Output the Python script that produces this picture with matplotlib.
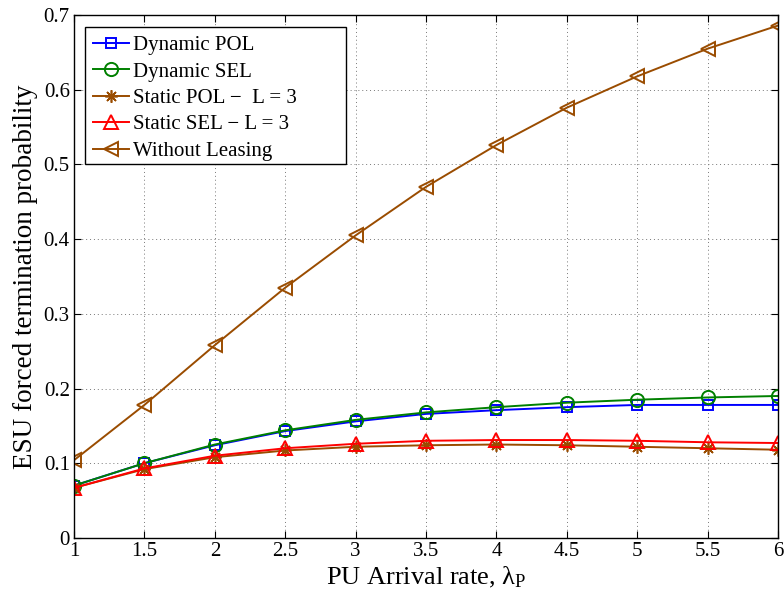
import matplotlib
matplotlib.use("Agg")
import matplotlib.pyplot as plt
from matplotlib.patches import Rectangle

x = [1, 1.5, 2, 2.5, 3, 3.5, 4, 4.5, 5, 5.5, 6]
dyn_pol = [0.070, 0.100, 0.124, 0.143, 0.156, 0.166, 0.171, 0.175, 0.178, 0.178, 0.178]
dyn_sel = [0.070, 0.100, 0.125, 0.144, 0.158, 0.168, 0.175, 0.181, 0.185, 0.188, 0.190]
sta_pol = [0.067, 0.092, 0.108, 0.117, 0.122, 0.124, 0.125, 0.124, 0.122, 0.120, 0.118]
sta_sel = [0.067, 0.093, 0.110, 0.120, 0.126, 0.130, 0.131, 0.131, 0.130, 0.128, 0.127]
no_lease = [0.104, 0.178, 0.258, 0.335, 0.405, 0.470, 0.526, 0.576, 0.618, 0.655, 0.686]

labels = ["Dynamic POL", "Dynamic SEL", "Static POL \u2212  L = 3",
          "Static SEL \u2212 L = 3", "Without Leasing"]
xticklabels = ['1', '1.5', '2', '2.5', '3', '3.5', '4', '4.5', '5', '5.5', '6']
yticks = [0, 0.1, 0.2, 0.3, 0.4, 0.5, 0.6, 0.7]
yticklabels = ['0', '0.1', '0.2', '0.3', '0.4', '0.5', '0.6', '0.7']

plt.rcParams['font.family'] = ['Liberation Serif', 'DejaVu Serif']
plt.rcParams['mathtext.fontset'] = 'custom'
plt.rcParams['mathtext.rm'] = 'Liberation Serif'
plt.rcParams['mathtext.it'] = 'Liberation Serif'

brown = '#9a4c00'
fig = plt.figure(figsize=(7.84, 6.03), dpi=100)
ax = fig.add_axes([0.0944, 0.108, 0.898, 0.867])

lw = 1.4
ax.plot(x, dyn_pol, color='blue', marker='s', mfc='none', ms=7, mew=1.4, lw=lw, label=labels[0])
ax.plot(x, dyn_sel, color='green', marker='o', mfc='none', ms=9.5, mew=1.4, lw=lw, label=labels[1])
ax.plot(x, sta_pol, color=brown, marker=(8, 2, 0), mfc='none', ms=9, mew=1.2, lw=lw, label=labels[2])
ax.plot(x, sta_sel, color='red', marker='^', mfc='none', ms=9.5, mew=1.4, lw=lw, label=labels[3])
ax.plot(x, no_lease, color=brown, marker='<', mfc='none', ms=9.5, mew=1.4, lw=lw, label=labels[4])

ax.set_xlim(1, 6)
ax.set_ylim(0, 0.7)
ax.set_xticks(x)
ax.set_xticklabels(xticklabels)
ax.set_yticks(yticks)
ax.set_yticklabels(yticklabels)
ax.tick_params(direction='in', labelsize=15, top=True, right=True, length=5, pad=3)
ax.grid(True, linestyle=(0, (1, 3)), color='#777777', lw=0.7)
for s in ax.spines.values():
    s.set_linewidth(1.0)

ax.set_xlabel(r'PU Arrival rate, $\lambda_{\mathrm{P}}$', fontsize=19, labelpad=3)
ax.set_ylabel('ESU forced termination probability', fontsize=19.5, labelpad=4)

# legend box (MATLAB-style, wider than its text)
ax.add_patch(Rectangle((0.0156, 0.715), 0.371, 0.262, transform=ax.transAxes,
                       facecolor='white', edgecolor='black', lw=1.0, zorder=4))
leg = ax.legend(loc='upper left', bbox_to_anchor=(0.027, 0.961), fontsize=15,
                frameon=False, handlelength=1.73, handletextpad=0.2,
                borderpad=0, labelspacing=0.33, borderaxespad=0)
leg.set_zorder(5)

fig.savefig('out.png', dpi=100)
